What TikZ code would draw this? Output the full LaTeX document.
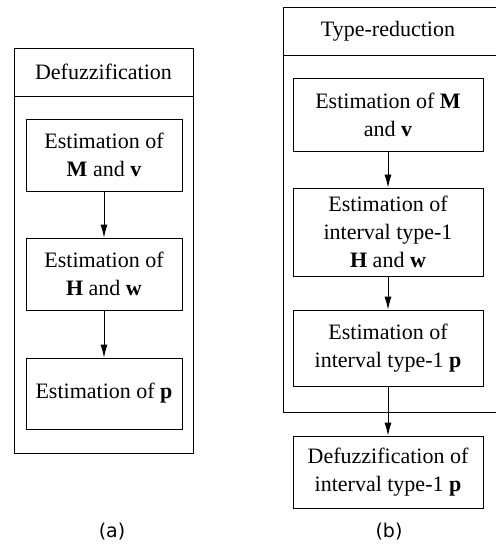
\documentclass[tikz,border=0pt]{standalone}
\usepackage{fontspec}
\setmainfont{Liberation Serif}
\newfontfamily\capfont{DejaVu Sans}
\usetikzlibrary{arrows.meta}

\tikzset{
  stage/.style={draw, line width=0.8pt, align=center, inner sep=0pt,
    font=\fontsize{22}{28}\selectfont},
  flow/.style={-{Latex[length=13pt,width=7pt]}, line width=0.8pt},
  frame/.style={line width=0.8pt},
  caption/.style={font=\capfont\fontsize{19}{22}\selectfont}
}

\begin{document}
\begin{tikzpicture}[x=1pt,y=-1pt]
  \useasboundingbox (0,0) rectangle (495,545);

  % (a) defuzzification
  \draw[frame] (14,48) rectangle (193,453);
  \draw[frame] (14,96) -- (193,96);
  \node[font=\fontsize{22}{27}\selectfont] (defhead) at (103.5,72) {Defuzzification};
  \node[stage, minimum width=156pt, minimum height=72pt] (estMv) at (104,155) {Estimation of\\\textbf{M} and \textbf{v}};
  \node[stage, minimum width=156pt, minimum height=72pt] (estHw) at (104,274) {Estimation of\\\textbf{H} and \textbf{w}};
  \node[stage, minimum width=156pt, minimum height=71pt] (estp) at (104,393.5) {Estimation of \textbf{p}};
  \draw[flow] (estMv) -- (estHw);
  \draw[flow] (estHw) -- (estp);
  \node[caption] (capa) at (112,532) {(a)};

  % (b) type-reduction
  \draw[frame] (497,7) -- (283,7) -- (283,412) -- (497,412);
  \draw[frame] (283,55) -- (497,55);
  \node[font=\fontsize{22}{27}\selectfont] (trhead) at (388,31) {Type-reduction};
  \node[stage, minimum width=190pt, minimum height=73pt] (trMv) at (388,114.5) {Estimation of \textbf{M}\\and \textbf{v}};
  \node[stage, minimum width=190pt, minimum height=88pt] (trHw) at (388,232) {Estimation of\\interval type-1\\\textbf{H} and \textbf{w}};
  \node[stage, minimum width=190pt, minimum height=76pt] (trp) at (388,348) {Estimation of\\interval type-1 \textbf{p}};
  \node[stage, minimum width=190pt, minimum height=72pt] (dfp) at (388,472) {Defuzzification of\\interval type-1 \textbf{p}};
  \draw[flow] (trMv) -- (trHw);
  \draw[flow] (trHw) -- (trp);
  \draw[flow] (trp) -- (dfp);
  \node[caption] (capb) at (389,532) {(b)};
\end{tikzpicture}
\end{document}
